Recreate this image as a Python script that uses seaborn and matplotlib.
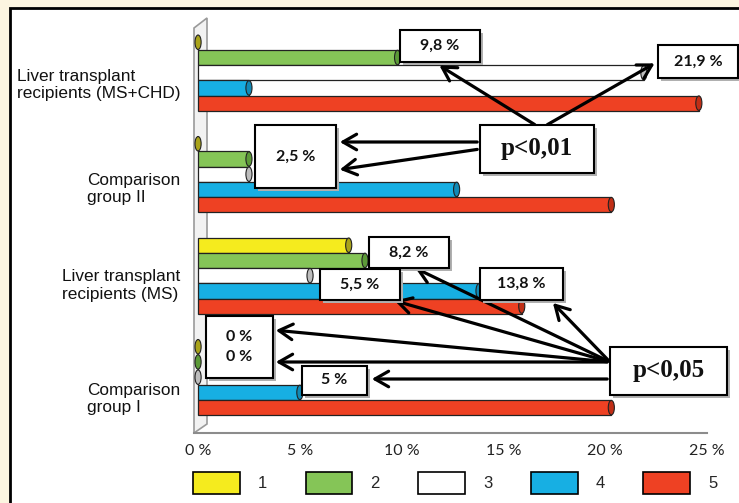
import matplotlib
matplotlib.use("Agg")
import pandas as pd
import matplotlib.pyplot as plt
import seaborn as sns
from matplotlib.patches import Rectangle, Ellipse, Patch, Polygon, FancyArrowPatch
from matplotlib.transforms import blended_transform_factory

# === data ===
groups = ["Liver transplant\nrecipients (MS+CHD)", "Comparison\ngroup II",
          "Liver transplant\nrecipients (MS)", "Comparison\ngroup I"]
series = ["1", "2", "3", "4", "5"]
s1 = [0, 0, 7.4, 0]
s2 = [9.8, 2.5, 8.2, 0]
s3 = [21.9, 2.5, 5.5, 0]
s4 = [2.5, 12.7, 13.8, 5.0]
s5 = [24.6, 20.3, 15.9, 20.3]
x_ticks = [0, 5, 10, 15, 20, 25]
x_tick_labels = ["0 %", "5 %", "10 %", "15 %", "20 %", "25 %"]

colors = ["#F5EB1E", "#85C557", "#FFFFFF", "#17AFE3", "#EE4123"]
cap_colors = ["#A9A31A", "#5C9A38", "#BDBDBD", "#1189B5", "#C02E16"]

# value labels (box in pixels x0, y0, x1, y1)
value_boxes = [
    ("9,8 %", 400, 30, 480, 62),
    ("21,9 %", 658, 45, 738, 78),
    ("2,5 %", 255, 125, 336, 188),
    ("8,2 %", 369, 237, 449, 268),
    ("5,5 %", 320, 269, 400, 300),
    ("13,8 %", 480, 268, 563, 300),
    ("0 %\n0 %", 206, 316, 273, 378),
    ("5 %", 302, 366, 367, 395),
]
p_boxes = [
    ("p<0,01", 480, 125, 594, 173),
    ("p<0,05", 610, 347, 727, 395),
]
arrows = [
    ((537, 126), (437, 64)), ((545, 126), (657, 62)),
    ((480, 142), (337, 142)), ((480, 149), (337, 170)),
    ((610, 362), (413, 267)), ((610, 362), (392, 300)),
    ((610, 362), (551, 301)), ((610, 362), (273, 330)),
    ((610, 362), (273, 362)), ((610, 379), (369, 379)),
]
label_shift = [12, 15, 10, 22]

# === build frame ===
df = pd.DataFrame({
    "group": groups * 5,
    "series": [s for s in series for _ in groups],
    "value": s1 + s2 + s3 + s4 + s5,
})

W, H = 739, 503
def fx(x):
    return x / W
def fy(y):
    return 1 - y / H

sns.set_style("white")
fig = plt.figure(figsize=(W / 100, H / 100), dpi=100)
fig.patch.set_facecolor("#FCF5E0")
fig.add_artist(Rectangle((fx(10), fy(520)), 1, (520 - 8) / H, transform=fig.transFigure,
                         facecolor="white", edgecolor="black", lw=2, zorder=-10))
# left wall of the 3d chart
fig.add_artist(Polygon([(fx(194), fy(28)), (fx(207), fy(18)), (fx(207), fy(424)),
                        (fx(194), fy(433))], closed=True, transform=fig.transFigure,
                       facecolor="#F2F2F2", edgecolor="#9A9A9A", lw=1.2, zorder=-5))

ax = fig.add_axes([fx(194), fy(433), (707 - 194) / W, (433 - 25) / H])
ax.set_facecolor("none")

sns.barplot(data=df, y="group", x="value", hue="series", orient="h",
            palette=colors, saturation=1, width=0.75, edgecolor="#222222", linewidth=0.9,
            legend=False, ax=ax, zorder=3)

# cylinder end caps
for i, cont in enumerate(ax.containers):
    for bar in cont:
        x = bar.get_x() + bar.get_width()
        yc = bar.get_y() + bar.get_height() / 2
        ax.add_patch(Ellipse((x, yc), 0.3, bar.get_height() * 0.95,
                             facecolor=cap_colors[i], edgecolor="#222222", lw=0.8, zorder=4))

ax.set_xlim(-0.2, 25)
ax.set_ylim(3.55, -0.47)
ax.set_xticks(x_ticks)
ax.set_xticklabels(x_tick_labels, family="Lato", fontsize=11.5, color="#222222")
ax.tick_params(axis="x", length=0, pad=8)
ax.set_yticks([])
ax.set_xlabel("")
ax.set_ylabel("")
for side in ["top", "right", "left"]:
    ax.spines[side].set_visible(False)
ax.spines["bottom"].set_color("#8C8C8C")
ax.spines["bottom"].set_linewidth(1.5)

trans = blended_transform_factory(ax.transAxes, ax.transData)
for i, g in enumerate(groups):
    ax.text(-0.027, i + label_shift[i] / 101.5, g, transform=trans, ha="right", va="center",
            multialignment="left", fontsize=12.4, linespacing=1.2,
            family="Liberation Sans", color="#111111")

# annotation arrows and boxes
for (a, b) in arrows:
    fig.add_artist(FancyArrowPatch((fx(a[0]), fy(a[1])), (fx(b[0]), fy(b[1])),
                                   transform=fig.transFigure, arrowstyle="->,head_length=0.7,head_width=0.4",
                                   mutation_scale=14, lw=2.3, color="black", zorder=6))

def draw_box(txt, x0, y0, x1, y1, **kw):
    fig.add_artist(Rectangle((fx(x0 + 3), fy(y1 + 3)), (x1 - x0) / W, (y1 - y0) / H,
                             transform=fig.transFigure, facecolor="#B0B0B0", edgecolor="none", zorder=7))
    fig.add_artist(Rectangle((fx(x0), fy(y1)), (x1 - x0) / W, (y1 - y0) / H,
                             transform=fig.transFigure, facecolor="white", edgecolor="black",
                             lw=1.5, zorder=8))
    fig.text(fx((x0 + x1) / 2), fy((y0 + y1) / 2), txt, ha="center", va="center", zorder=9, **kw)

for (txt, x0, y0, x1, y1) in value_boxes:
    draw_box(txt, x0, y0, x1, y1, family="Lato", fontweight="bold", fontsize=11.5,
             linespacing=1.6, color="#111111")
for (txt, x0, y0, x1, y1) in p_boxes:
    draw_box(txt, x0, y0, x1, y1, family="Liberation Serif", fontweight="bold", fontsize=18,
             color="#111111")

handles = [Patch(facecolor=c, edgecolor="black", lw=1.2) for c in colors]
fig.legend(handles, series, ncol=5, loc="center left", bbox_to_anchor=(fx(193), fy(483)),
           frameon=False, borderpad=0, borderaxespad=0, handlelength=2.8, handleheight=1.6,
           handletextpad=1.1, columnspacing=2.3,
           prop={"family": "Liberation Sans", "size": 12})

fig.savefig("out.png", dpi=100, facecolor=fig.get_facecolor())
